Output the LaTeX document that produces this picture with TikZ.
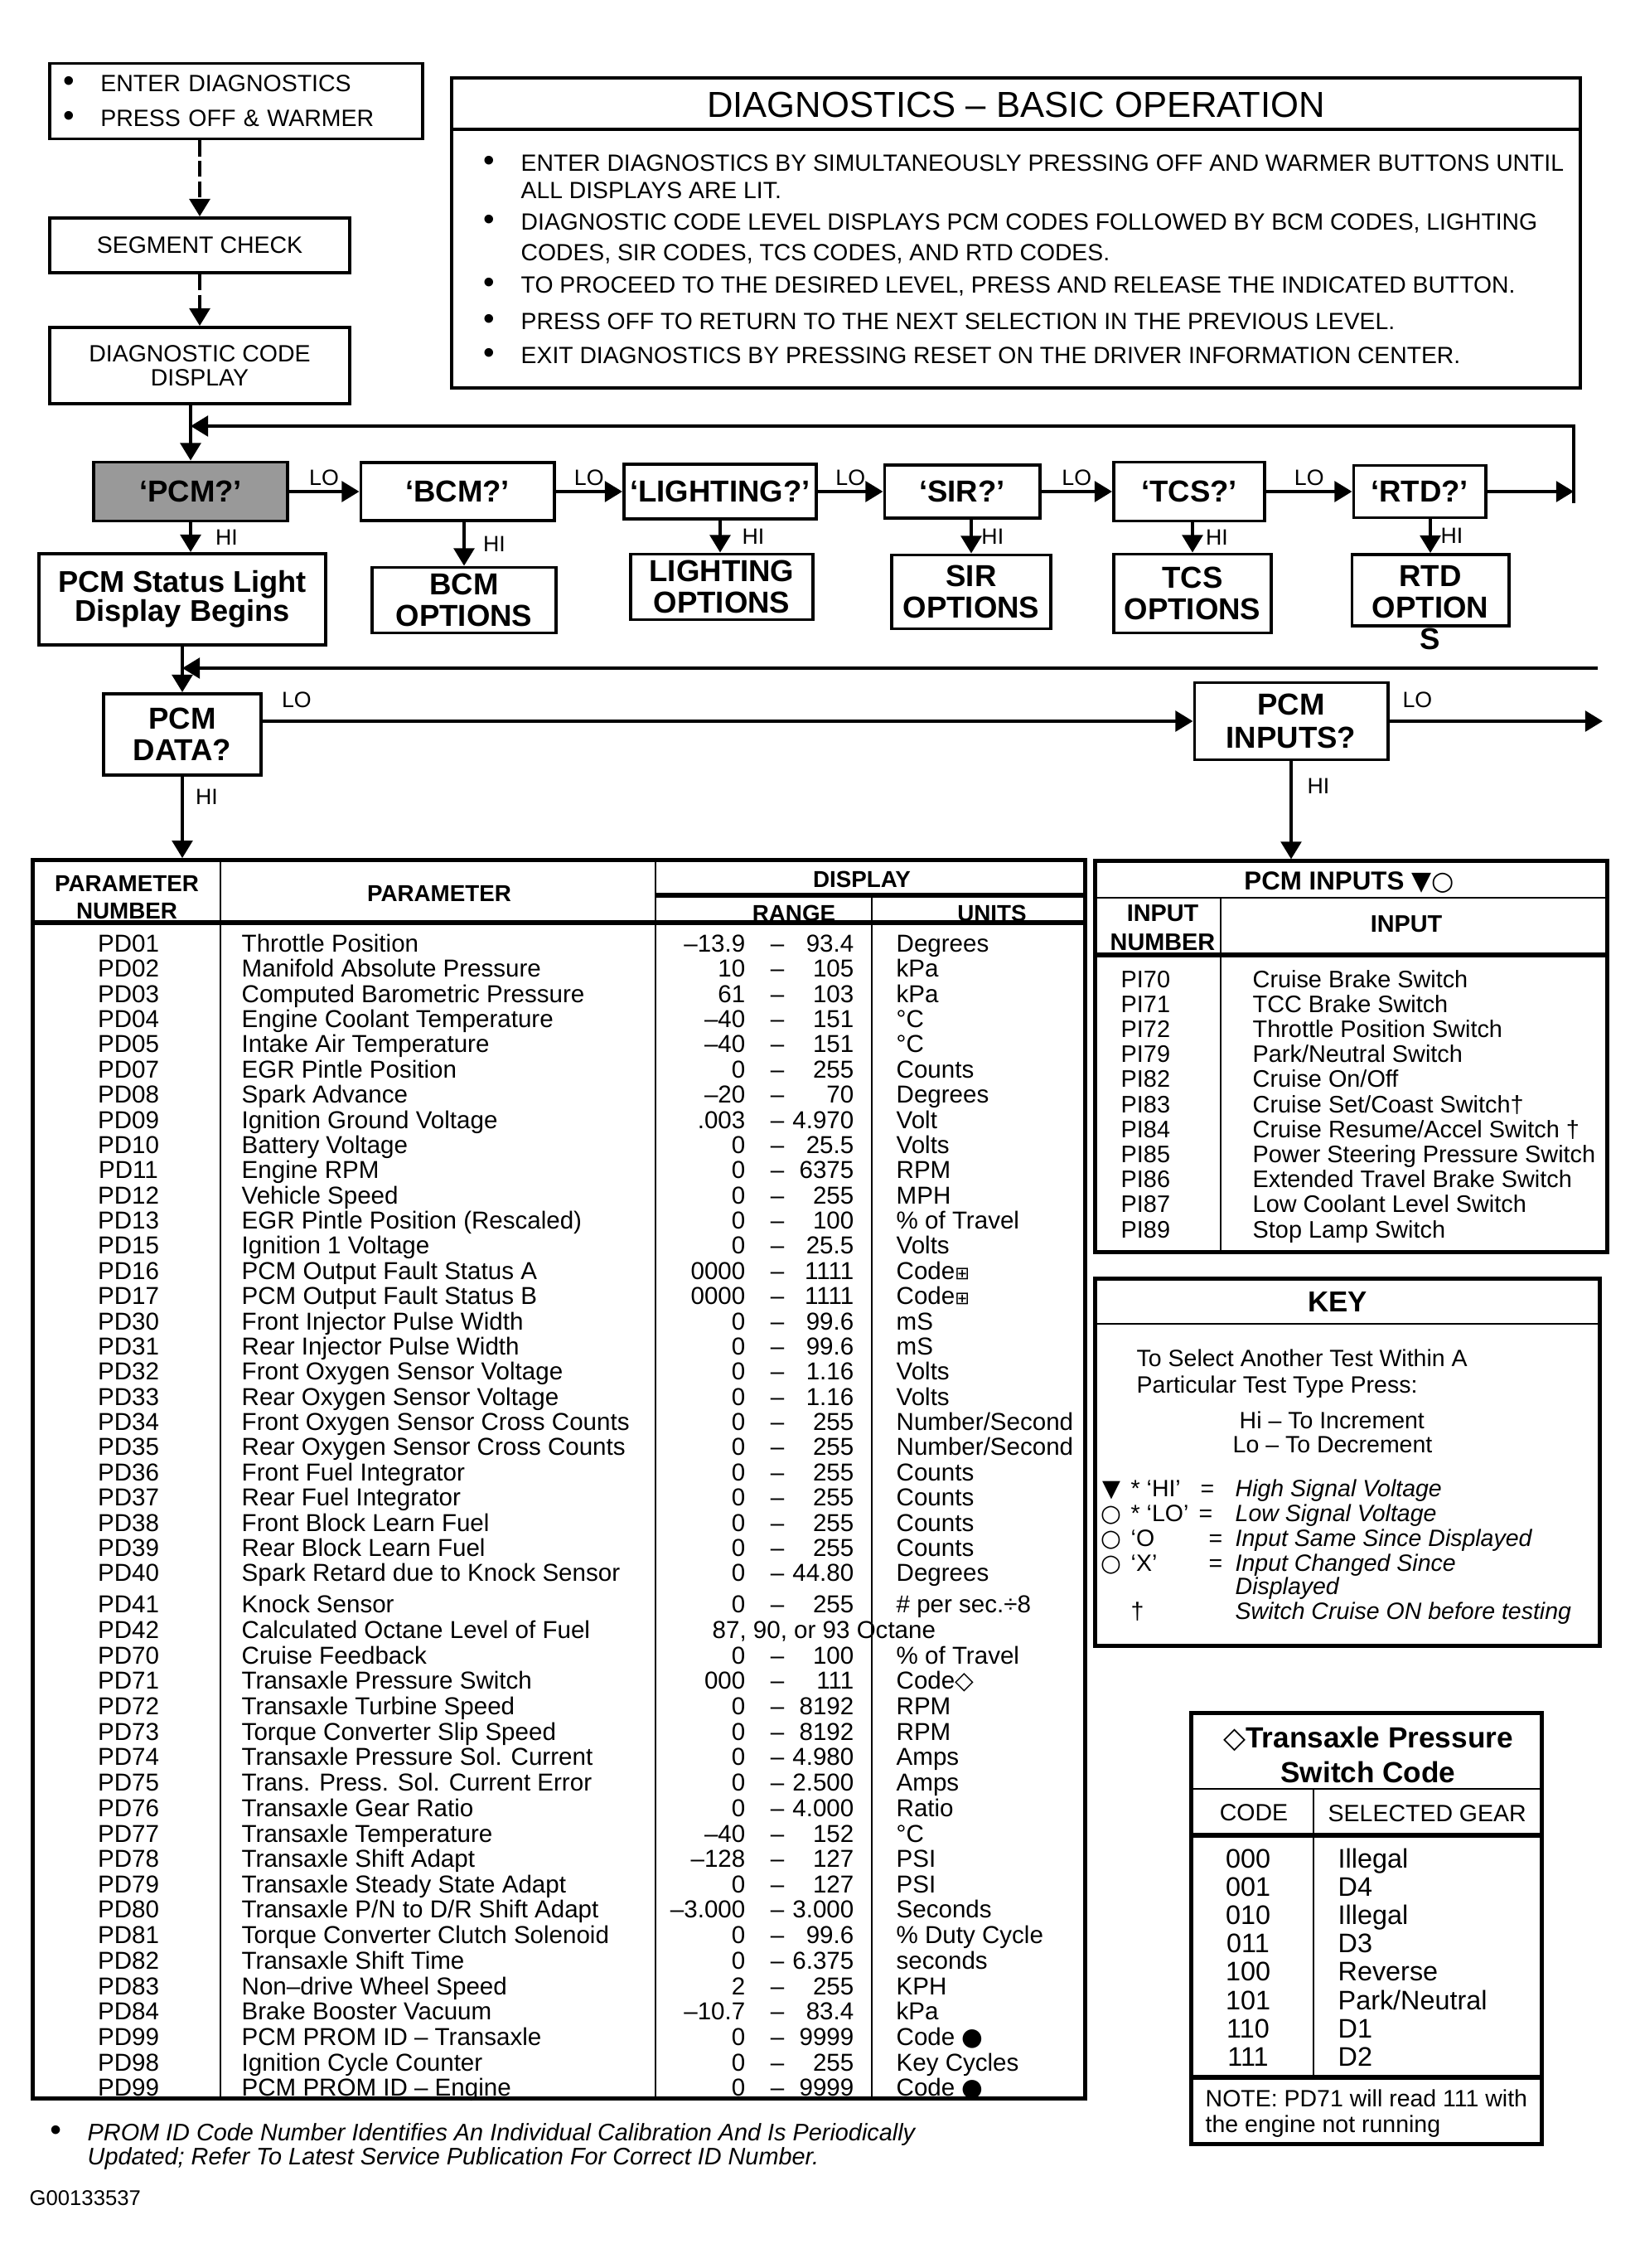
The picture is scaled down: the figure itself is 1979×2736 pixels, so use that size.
\documentclass[tikz,border=0pt]{standalone}
\usepackage{fontspec}
\setmainfont{Liberation Sans}
\newfontfamily\dejavu{DejaVu Sans}
\usetikzlibrary{arrows.meta,positioning}

\newcommand{\bul}{\makebox[0.45cm][l]{\fontsize{11}{11}\selectfont\textbullet}}
% one row of the PD table: index, baseline, number, parameter, low, high, units
\newcommand{\datarow}[7]{%
  \node[tcell, anchor=base] (pdn#1) at (155,#2) {#3};
  \node[tcell, anchor=base west] (pdp#1) at (291,#2) {#4};
  \node[tcell, anchor=base east] (pdl#1) at (900,#2) {#5};
  \node[tcell, anchor=base] (pdd#1) at (938,#2) {–};
  \node[tcell, anchor=base east] (pdh#1) at (1031,#2) {#6};
  \node[tcell, anchor=base west] (pdu#1) at (1081,#2) {#7};}

\begin{document}
\begin{tikzpicture}[x=0.01cm, y=-0.01cm, >={Triangle[length=6pt,width=7pt]},
    font=\fontsize{8.1}{9.5}\selectfont]
  \tikzset{
    plainbox/.style={draw, line width=1.1pt, inner sep=0pt, align=center},
    flowbox/.style={plainbox, font=\fontsize{10.4}{10.8}\selectfont\bfseries},
    lbl/.style={inner sep=0pt, font=\fontsize{7.6}{8}\selectfont},
    txt/.style={inner sep=0pt, anchor=base west},
    tcell/.style={inner sep=0pt, font=\fontsize{8.4}{9}\selectfont},
    gcell/.style={inner sep=0pt, font=\fontsize{9.2}{10}\selectfont},
    hd/.style={inner sep=0pt, align=center, font=\fontsize{7.9}{9.4}\selectfont\bfseries},
    tabframe/.style={draw, line width=1.4pt, inner sep=0pt},
    thinrule/.style={line width=0.8pt},
    heavyrule/.style={line width=1.5pt},
    link/.style={line width=1.1pt},
    dashlink/.style={link, dash pattern=on 5.5pt off 1.5pt}
  }
  \useasboundingbox (0,0) rectangle (1979,2736);

  % start of the diagnostics
  \node[plainbox, minimum width=4.49cm, minimum height=0.91cm, text width=4.17cm, align=left,
        font=\fontsize{8.1}{12}\selectfont] (enter) at (285,122) {\bul ENTER DIAGNOSTICS\\\bul PRESS OFF \& WARMER};
  \node[plainbox, minimum width=3.61cm, minimum height=0.66cm] (segment) at (241,296) {SEGMENT CHECK};
  \node[plainbox, minimum width=3.61cm, minimum height=0.92cm, font=\fontsize{8.1}{8.3}\selectfont] (diagcode) at (241,441) {DIAGNOSTIC CODE\\DISPLAY};

  % basic operation box
  \node[plainbox, minimum width=13.62cm, minimum height=3.74cm] (opbox) at (1226,281) {};
  \node[font=\fontsize{12.4}{14}\selectfont] (optitle) at (1226,126) {DIAGNOSTICS – BASIC OPERATION};
  \draw[line width=1.1pt] (545,156) -- (1907,156);
  \node[txt, font=\fontsize{8.05}{9}\selectfont] (op1) at (583,206) {\bul ENTER DIAGNOSTICS BY SIMULTANEOUSLY PRESSING OFF AND WARMER BUTTONS UNTIL};
  \node[txt, font=\fontsize{8.05}{9}\selectfont] (op2) at (628,239) {ALL DISPLAYS ARE LIT.};
  \node[txt, font=\fontsize{8.05}{9}\selectfont] (op3) at (583,277) {\bul DIAGNOSTIC CODE LEVEL DISPLAYS PCM CODES FOLLOWED BY BCM CODES, LIGHTING};
  \node[txt, font=\fontsize{8.05}{9}\selectfont] (op4) at (628,314) {CODES, SIR CODES, TCS CODES, AND RTD CODES.};
  \node[txt, font=\fontsize{8.05}{9}\selectfont] (op5) at (583,353) {\bul TO PROCEED TO THE DESIRED LEVEL, PRESS AND RELEASE THE INDICATED BUTTON.};
  \node[txt, font=\fontsize{8.05}{9}\selectfont] (op6) at (583,397) {\bul PRESS OFF TO RETURN TO THE NEXT SELECTION IN THE PREVIOUS LEVEL.};
  \node[txt, font=\fontsize{8.05}{9}\selectfont] (op7) at (583,438) {\bul EXIT DIAGNOSTICS BY PRESSING RESET ON THE DRIVER INFORMATION CENTER.};

  % code level
  \node[flowbox, fill=black!40, minimum width=2.33cm, minimum height=0.71cm] (pcm) at (230,593) {`PCM?'};
  \node[flowbox, minimum width=2.33cm, minimum height=0.70cm] (bcm) at (552,593) {`BCM?'};
  \node[flowbox, minimum width=2.32cm, minimum height=0.66cm] (lighting) at (869,593) {`LIGHTING?'};
  \node[flowbox, minimum width=1.87cm, minimum height=0.64cm] (sir) at (1161,593) {`SIR?'};
  \node[flowbox, minimum width=1.82cm, minimum height=0.71cm] (tcs) at (1435,593) {`TCS?'};
  \node[flowbox, minimum width=1.59cm, minimum height=0.63cm] (rtd) at (1713,593) {`RTD?'};

  \node[flowbox, font=\fontsize{10.3}{10}\selectfont\bfseries, minimum width=3.45cm, minimum height=1.10cm] (status) at (220,723) {PCM Status Light\\Display Begins};
  \node[flowbox, minimum width=2.22cm, minimum height=0.79cm] (bcmopt) at (560,724) {BCM\\OPTIONS};
  \node[flowbox, minimum width=2.20cm, minimum height=0.79cm] (lightopt) at (871,708) {LIGHTING\\OPTIONS};
  \node[flowbox, minimum width=1.92cm, minimum height=0.89cm] (siropt) at (1172,714) {SIR\\OPTIONS};
  \node[flowbox, minimum width=1.90cm, minimum height=0.95cm] (tcsopt) at (1439,716) {TCS\\OPTIONS};
  \node[plainbox, minimum width=1.89cm, minimum height=0.86cm] (rtdopt) at (1726,712) {};
  \node[flowbox, draw=none] (rtdtext) at (1726,733) {RTD\\OPTION\\S};

  % PCM level
  \node[flowbox, minimum width=1.90cm, minimum height=0.98cm] (pcmdata) at (220,886) {PCM\\DATA?};
  \node[flowbox, font=\fontsize{10.4}{11.4}\selectfont\bfseries, minimum width=2.33cm, minimum height=0.93cm] (pcminputs) at (1558,870) {PCM\\INPUTS?};

  % PCM data table
  \node[hd] (hdnum) at (153,1083) {PARAMETER\\NUMBER};
  \node[hd] (hdpar) at (530,1078) {PARAMETER};
  \node[hd] (hddisp) at (1040,1061) {DISPLAY};
  \node[hd, anchor=base] (hdrange) at (958,1111) {RANGE};
  \node[hd, anchor=base] (hdunits) at (1197,1111) {UNITS};
  \datarow{1}{1148}{PD01}{Throttle Position}{–13.9}{93.4}{Degrees}
  \datarow{2}{1178}{PD02}{Manifold Absolute Pressure}{10}{105}{kPa}
  \datarow{3}{1209}{PD03}{Computed Barometric Pressure}{61}{103}{kPa}
  \datarow{4}{1239}{PD04}{Engine Coolant Temperature}{–40}{151}{°C}
  \datarow{5}{1269}{PD05}{Intake Air Temperature}{–40}{151}{°C}
  \datarow{6}{1300}{PD07}{EGR Pintle Position}{0}{255}{Counts}
  \datarow{7}{1330}{PD08}{Spark Advance}{–20}{70}{Degrees}
  \datarow{8}{1361}{PD09}{Ignition Ground Voltage}{.003}{4.970}{Volt}
  \datarow{9}{1391}{PD10}{Battery Voltage}{0}{25.5}{Volts}
  \datarow{10}{1421}{PD11}{Engine RPM}{0}{6375}{RPM}
  \datarow{11}{1452}{PD12}{Vehicle Speed}{0}{255}{MPH}
  \datarow{12}{1482}{PD13}{EGR Pintle Position (Rescaled)}{0}{100}{\% of Travel}
  \datarow{13}{1512}{PD15}{Ignition 1 Voltage}{0}{25.5}{Volts}
  \datarow{14}{1543}{PD16}{PCM Output Fault Status A}{0000}{1111}{Code{\dejavu\fontsize{6}{6}\selectfont ⊞}}
  \datarow{15}{1573}{PD17}{PCM Output Fault Status B}{0000}{1111}{Code{\dejavu\fontsize{6}{6}\selectfont ⊞}}
  \datarow{16}{1604}{PD30}{Front Injector Pulse Width}{0}{99.6}{mS}
  \datarow{17}{1634}{PD31}{Rear Injector Pulse Width}{0}{99.6}{mS}
  \datarow{18}{1664}{PD32}{Front Oxygen Sensor Voltage}{0}{1.16}{Volts}
  \datarow{19}{1695}{PD33}{Rear Oxygen Sensor Voltage}{0}{1.16}{Volts}
  \datarow{20}{1725}{PD34}{Front Oxygen Sensor Cross Counts}{0}{255}{Number/Second}
  \datarow{21}{1755}{PD35}{Rear Oxygen Sensor Cross Counts}{0}{255}{Number/Second}
  \datarow{22}{1786}{PD36}{Front Fuel Integrator}{0}{255}{Counts}
  \datarow{23}{1816}{PD37}{Rear Fuel Integrator}{0}{255}{Counts}
  \datarow{24}{1847}{PD38}{Front Block Learn Fuel}{0}{255}{Counts}
  \datarow{25}{1877}{PD39}{Rear Block Learn Fuel}{0}{255}{Counts}
  \datarow{26}{1907}{PD40}{Spark Retard due to Knock Sensor}{0}{44.80}{Degrees}
  \datarow{27}{1945}{PD41}{Knock Sensor}{0}{255}{\# per sec.÷8}
  \node[tcell, anchor=base] (pdn28) at (155,1976) {PD42};
  \node[tcell, anchor=base west] (pdp28) at (291,1976) {Calculated Octane Level of Fuel};
  \node[tcell, anchor=base west] (pdl28) at (859,1976) {87, 90, or 93 Octane};
  \datarow{29}{2007}{PD70}{Cruise Feedback}{0}{100}{\% of Travel}
  \datarow{30}{2037}{PD71}{Transaxle Pressure Switch}{000}{111}{Code{\dejavu ◇}}
  \datarow{31}{2068}{PD72}{Transaxle Turbine Speed}{0}{8192}{RPM}
  \datarow{32}{2099}{PD73}{Torque Converter Slip Speed}{0}{8192}{RPM}
  \datarow{33}{2129}{PD74}{Transaxle Pressure Sol. Current}{0}{4.980}{Amps}
  \datarow{34}{2160}{PD75}{Trans. Press. Sol. Current Error}{0}{2.500}{Amps}
  \datarow{35}{2191}{PD76}{Transaxle Gear Ratio}{0}{4.000}{Ratio}
  \datarow{36}{2222}{PD77}{Transaxle Temperature}{–40}{152}{°C}
  \datarow{37}{2252}{PD78}{Transaxle Shift Adapt}{–128}{127}{PSI}
  \datarow{38}{2283}{PD79}{Transaxle Steady State Adapt}{0}{127}{PSI}
  \datarow{39}{2313}{PD80}{Transaxle P/N to D/R Shift Adapt}{–3.000}{3.000}{Seconds}
  \datarow{40}{2344}{PD81}{Torque Converter Clutch Solenoid}{0}{99.6}{\% Duty Cycle}
  \datarow{41}{2375}{PD82}{Transaxle Shift Time}{0}{6.375}{seconds}
  \datarow{42}{2406}{PD83}{Non–drive Wheel Speed}{2}{255}{KPH}
  \datarow{43}{2436}{PD84}{Brake Booster Vacuum}{–10.7}{83.4}{kPa}
  \datarow{44}{2467}{PD99}{PCM PROM ID – Transaxle}{0}{9999}{Code {\dejavu ●}}
  \datarow{45}{2498}{PD98}{Ignition Cycle Counter}{0}{255}{Key Cycles}
  \datarow{46}{2528}{PD99}{PCM PROM ID – Engine}{0}{9999}{Code {\dejavu ●}}
  \node[tabframe, minimum width=12.69cm, minimum height=14.93cm] (datatab) at (674.5,1784.5) {};
  \draw[thinrule] (266,1038) -- (266,2531);
  \draw[thinrule] (791,1038) -- (791,2531);
  \draw[thinrule] (1052,1080) -- (1052,2531);
  \draw[heavyrule] (791,1080) -- (1309,1080);
  \draw[heavyrule] (40,1113) -- (1309,1113);

  % PCM inputs table
  \node[tabframe, minimum width=6.17cm, minimum height=4.71cm] (inputtab) at (1630.5,1274.5) {};
  \draw[thinrule] (1322,1083) -- (1939,1083);
  \draw[heavyrule] (1322,1152) -- (1939,1152);
  \draw[thinrule] (1473,1083) -- (1473,1510);
  \node[inner sep=0pt, anchor=base, font=\fontsize{8.9}{10}\selectfont\bfseries] (inputtitle) at (1628,1073) {PCM INPUTS {\dejavu ▼○}};
  \node[hd, font=\fontsize{8.2}{10}\selectfont\bfseries] (inputnumhd) at (1403,1119) {INPUT\\NUMBER};
  \node[hd, font=\fontsize{8.2}{10}\selectfont\bfseries] (inputhd) at (1697,1115) {INPUT};
  \foreach \inum/\iname [count=\k] in {PI70/Cruise Brake Switch, PI71/TCC Brake Switch,
      PI72/Throttle Position Switch, PI79/{Park/Neutral Switch}, PI82/{Cruise On/Off},
      PI83/{Cruise Set/Coast Switch†}, PI84/{Cruise Resume/Accel Switch †},
      PI85/Power Steering Pressure Switch, PI86/Extended Travel Brake Switch,
      PI87/Low Coolant Level Switch, PI89/Stop Lamp Switch} {
    \node[txt, font=\fontsize{8.2}{9}\selectfont] (inum\k) at (1352,{1191+(\k-1)*30.2}) {\inum};
    \node[txt, font=\fontsize{8.2}{9}\selectfont] (iname\k) at (1511,{1191+(\k-1)*30.2}) {\iname};
  }

  % key
  \node[tabframe, minimum width=6.08cm, minimum height=4.42cm] (keytab) at (1626,1764) {};
  \draw[thinrule] (1322,1597) -- (1930,1597);
  \node[inner sep=0pt, anchor=base, font=\fontsize{9.9}{10}\selectfont\bfseries] (keytitle) at (1614,1582) {KEY};
  \node[txt] (key1) at (1371,1648) {To Select Another Test Within A};
  \node[txt] (key2) at (1371,1680) {Particular Test Type Press:};
  \node[txt] (key3) at (1495,1723) {Hi – To Increment};
  \node[txt] (key4) at (1487,1752) {Lo – To Decrement};
  \node[inner sep=0pt, anchor=base] (ksym1) at (1341,1805) {\dejavu ▼};
  \node[inner sep=0pt, anchor=base] (ksym2) at (1341,1835) {\dejavu ○};
  \node[inner sep=0pt, anchor=base] (ksym3) at (1341,1865) {\dejavu ○};
  \node[inner sep=0pt, anchor=base] (ksym4) at (1341,1895) {\dejavu ○};
  \node[txt] (kcode1) at (1364,1805) {* `HI'};
  \node[txt] (kcode2) at (1364,1835) {* `LO'};
  \node[txt] (kcode3) at (1364,1865) {`O};
  \node[txt] (kcode4) at (1364,1895) {`X'};
  \node[txt] (keq1) at (1448,1805) {=};
  \node[txt] (keq2) at (1446,1835) {=};
  \node[txt] (keq3) at (1458,1865) {=};
  \node[txt] (keq4) at (1458,1895) {=};
  \node[txt, font=\fontsize{8.1}{9}\selectfont\itshape] (kdesc1) at (1490,1805) {High Signal Voltage};
  \node[txt, font=\fontsize{8.1}{9}\selectfont\itshape] (kdesc2) at (1490,1835) {Low Signal Voltage};
  \node[txt, font=\fontsize{8.1}{9}\selectfont\itshape] (kdesc3) at (1490,1865) {Input Same Since Displayed};
  \node[txt, font=\fontsize{8.1}{9}\selectfont\itshape] (kdesc4) at (1490,1895) {Input Changed Since};
  \node[txt, font=\fontsize{8.1}{9}\selectfont\itshape] (kdesc5) at (1490,1923) {Displayed};
  \node[txt] (kdag) at (1364,1953) {†};
  \node[txt, font=\fontsize{8.1}{9}\selectfont\itshape] (kdesc6) at (1490,1953) {Switch Cruise ON before testing};

  % transaxle pressure switch code
  \node[tabframe, minimum width=4.22cm, minimum height=5.19cm] (gearstab) at (1649,2326.5) {};
  \draw[thinrule] (1438,2158) -- (1860,2158);
  \draw[heavyrule] (1438,2214) -- (1860,2214);
  \draw[heavyrule] (1438,2506) -- (1860,2506);
  \draw[thinrule] (1585,2158) -- (1585,2506);
  \node[inner sep=0pt, align=center, font=\fontsize{10}{12}\selectfont\bfseries] (gearstitle) at (1651,2117) {{\dejavu ◇}Transaxle Pressure\\Switch Code};
  \node[inner sep=0pt, anchor=base] (codehd) at (1513,2196) {CODE};
  \node[txt] (gearhd) at (1602,2197) {SELECTED GEAR};
  \foreach \gcode/\gname [count=\k] in {000/Illegal, 001/D4, 010/Illegal, 011/D3,
      100/Reverse, 101/{Park/Neutral}, 110/D1, 111/D2} {
    \node[gcell, anchor=base] (gcode\k) at (1506,{2253+(\k-1)*34.2}) {\gcode};
    \node[gcell, anchor=base west] (gname\k) at (1614,{2253+(\k-1)*34.2}) {\gname};
  }
  \node[txt] (gnote1) at (1454,2541) {NOTE: PD71 will read 111 with};
  \node[txt] (gnote2) at (1454,2572) {the engine not running};

  % footnote
  \node[txt, font=\fontsize{8.2}{9}\selectfont\itshape] (prom1) at (60,2582) {\bul PROM ID Code Number Identifies An Individual Calibration And Is Periodically};
  \node[txt, font=\fontsize{8.2}{9}\selectfont\itshape] (prom2) at (105,2611) {Updated; Refer To Latest Service Publication For Correct ID Number.};
  \node[txt, font=\fontsize{7.3}{8}\selectfont] (figid) at (35,2660) {G00133537};

  % connectors
  \draw[dashlink, ->] (enter.south -| segment) -- (segment);
  \draw[dashlink, ->] (segment) -- (diagcode);
  \draw[link, ->] (diagcode.south -| pcm) -- (pcm);
  \draw[link, ->] (pcm) -- node[lbl, above=1.5pt] (lo1) {LO} (bcm);
  \draw[link, ->] (bcm) -- node[lbl, above=1.5pt] (lo2) {LO} (lighting);
  \draw[link, ->] (lighting) -- node[lbl, above=1.5pt] (lo3) {LO} (sir);
  \draw[link, ->] (sir) -- node[lbl, above=1.5pt] (lo4) {LO} (tcs);
  \draw[link, ->] (tcs) -- node[lbl, above=1.5pt] (lo5) {LO} (rtd);
  \coordinate (loopse) at (1899,607);
  \coordinate (loopne) at (1899,514);
  \draw[link, ->] (rtd) -- (rtd -| loopse);
  \draw[link, ->] (loopse) -- (loopne) -- (loopne -| pcm);

  \draw[link, ->] (pcm) -- node[lbl, right=8pt] (hi1) {HI} (pcm |- status.north);
  \draw[link, ->] (bcm.south -| bcmopt) -- node[lbl, right=6pt] (hi2) {HI} (bcmopt);
  \draw[link, ->] (lighting) -- node[lbl, right=7pt] (hi3) {HI} (lighting |- lightopt.north);
  \draw[link, ->] (sir.south -| siropt) -- node[lbl, right=3pt] (hi4) {HI} (siropt);
  \draw[link, ->] (tcs.south -| tcsopt) -- node[lbl, right=4pt] (hi5) {HI} (tcsopt);
  \draw[link, ->] (rtd.south -| rtdopt) -- node[lbl, right=3pt] (hi6) {HI} (rtdopt);

  \draw[link, ->] (status) -- (pcmdata);
  \coordinate (ret) at (1928,806);
  \draw[link, ->] (ret) -- (ret -| status);
  \draw[link, ->] (pcmdata.east |- pcminputs) -- node[lbl, pos=0, anchor=south west, xshift=6pt, yshift=4pt] (lo6) {LO} (pcminputs);
  \coordinate (inputsout) at (1934,870);
  \draw[link, ->] (pcminputs) -- node[lbl, pos=0, anchor=south west, xshift=4pt, yshift=4pt] (lo7) {LO} (inputsout);
  \draw[link, ->] (pcmdata) -- node[lbl, pos=0.25, right=4pt] (hi7) {HI} (pcmdata |- datatab.north);
  \draw[link, ->] (pcminputs) -- node[lbl, pos=0.25, right=5pt] (hi8) {HI} (pcminputs |- inputtab.north);
\end{tikzpicture}
\end{document}
